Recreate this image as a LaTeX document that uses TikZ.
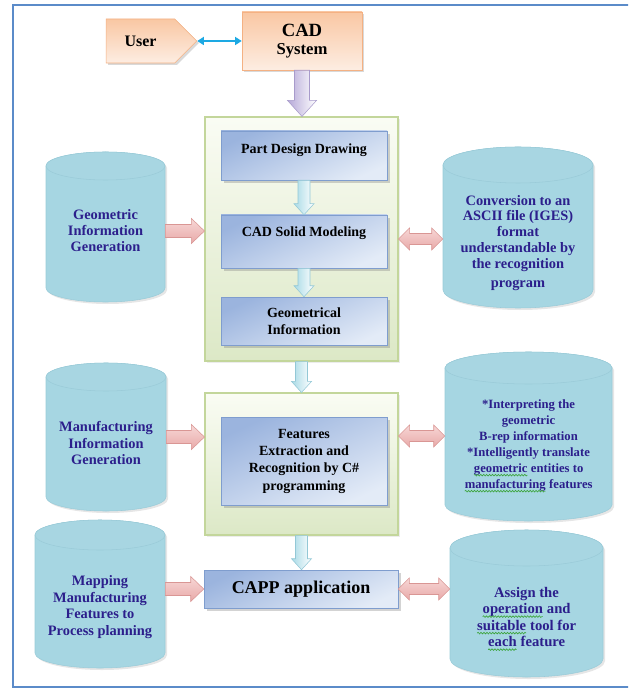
\documentclass[tikz,border=0pt]{standalone}
\usepackage{fontspec}
\setmainfont{Liberation Serif}
\usetikzlibrary{arrows.meta, positioning, calc, shapes.symbols, shadows, decorations.pathmorphing}

\definecolor{frameblue}{HTML}{5B8BC9}
\definecolor{peachline}{HTML}{F4B183}
\definecolor{peachtop}{HTML}{F9C7A3}
\definecolor{peachbot}{HTML}{FDEDE2}
\definecolor{greenline}{HTML}{C3D69B}
\definecolor{greentop}{HTML}{FAFCF4}
\definecolor{greenbot}{HTML}{DCE8C6}
\definecolor{blueline}{HTML}{7F9DCE}
\definecolor{bluedark}{HTML}{9BB4DE}
\definecolor{bluelight}{HTML}{E3EBF7}
\definecolor{cylside}{HTML}{A6D6E2}
\definecolor{cylmid}{HTML}{E4F3F7}
\definecolor{cylcap}{HTML}{A8D6E2}
\definecolor{cylline}{HTML}{9ACBD8}
\definecolor{cylink}{HTML}{2C1F8C}
\definecolor{pinkline}{HTML}{D99694}
\definecolor{pinktop}{HTML}{F7D7D6}
\definecolor{pinkbot}{HTML}{E8A9A8}
\definecolor{cyanline}{HTML}{93C8D6}
\definecolor{cyandark}{HTML}{A8DAE6}
\definecolor{lilacline}{HTML}{A89BCB}
\definecolor{lilacdark}{HTML}{B6A9D8}
\definecolor{linkblue}{HTML}{1DA9E3}
\definecolor{squiggreen}{HTML}{3DA53D}

% green spell-check wave under a word
\newcommand{\squig}[1]{\tikz[baseline=(sq.base), x=1pt, y=1pt]{%
  \node[inner sep=0pt, outer sep=0pt, minimum width=0pt, minimum height=0pt, text depth=, align=none] (sq) {#1};
  \draw[squiggreen, line width=0.5pt, decorate, decoration={snake, amplitude=0.6pt, segment length=2.2pt}]
    ([yshift=-2pt]sq.base west) -- ([yshift=-2pt]sq.base east);}}

\begin{document}
\begin{tikzpicture}[
    x=0.75pt, y=-0.75pt,
    every node/.style={font=\bfseries},
    % boxes
    peachbox/.style={draw=peachline, top color=peachtop, bottom color=peachbot,
                     drop shadow={shadow xshift=1.5pt, shadow yshift=-1.5pt, opacity=0.3}},
    greenbox/.style={draw=greenline, line width=0.8pt, top color=greentop, bottom color=greenbot,
                     drop shadow={shadow xshift=1.5pt, shadow yshift=-1.5pt, opacity=0.15}},
    bluebox/.style={draw=blueline, top color=bluedark, bottom color=bluelight, shading angle=25,
                    drop shadow={shadow xshift=2pt, shadow yshift=-2pt, opacity=0.35},
                    align=center, font=\bfseries\fontsize{10.5}{13}\selectfont},
    cylbody/.style={draw=cylline, left color=cylside, middle color=cylmid, right color=cylside,
                    drop shadow={shadow xshift=1.5pt, shadow yshift=-1.5pt, opacity=0.2}},
    cylend/.style={draw=cylline, fill=cylcap},
    cyltext/.style={inner sep=0pt, align=center, text=cylink},
    % connectors
    userlink/.style={{Triangle[length=5pt,width=6pt]}-{Triangle[length=5pt,width=6pt]},
                     line width=1.5pt, draw=linkblue},
    pinkarrow/.style={draw=pinkline, top color=pinktop, bottom color=pinkbot},
    cyanarrow/.style={draw=cyanline, left color=cyandark, right color=white},
    lilacarrow/.style={draw=lilacline, left color=lilacdark, right color=white},
    % block arrow pointing right
    rarrow/.style={to path={
        ($(\tikztostart)+(0,-6.5)$) -- ($(\tikztostart -| \tikztotarget)+(-13,-6.5)$)
        -- ($(\tikztostart -| \tikztotarget)+(-13,-12.5)$) -- (\tikztostart -| \tikztotarget)
        -- ($(\tikztostart -| \tikztotarget)+(-13,12.5)$) -- ($(\tikztostart -| \tikztotarget)+(-13,6.5)$)
        -- ($(\tikztostart)+(0,6.5)$) -- cycle}},
    % block arrow with two heads
    lrarrow/.style={to path={
        (\tikztostart) -- ($(\tikztostart)+(11,-11)$) -- ($(\tikztostart)+(11,-5.5)$)
        -- ($(\tikztostart -| \tikztotarget)+(-11,-5.5)$) -- ($(\tikztostart -| \tikztotarget)+(-11,-11)$)
        -- (\tikztostart -| \tikztotarget)
        -- ($(\tikztostart -| \tikztotarget)+(-11,11)$) -- ($(\tikztostart -| \tikztotarget)+(-11,5.5)$)
        -- ($(\tikztostart)+(11,5.5)$) -- ($(\tikztostart)+(11,11)$) -- cycle}},
    % block arrow pointing down: shaft half width / head half width / head length
    darrow/.style n args={3}{to path={
        ($(\tikztostart)+(-#1,0)$) -- ($(\tikztostart |- \tikztotarget)+(-#1,-#3)$)
        -- ($(\tikztostart |- \tikztotarget)+(-#2,-#3)$) -- (\tikztostart |- \tikztotarget)
        -- ($(\tikztostart |- \tikztotarget)+(#2,-#3)$) -- ($(\tikztostart |- \tikztotarget)+(#1,-#3)$)
        -- ($(\tikztostart)+(#1,0)$) -- cycle}}
]

\useasboundingbox (0,0) rectangle (628,691);
\clip (0,0) rectangle (628,691);

% === FRAME ===
\draw[frameblue, line width=1.5pt] (13,5) rectangle (660,687);

% === CYLINDERS ===
% centre x / half width / top / bottom / end radius
\foreach \cx/\rx/\yt/\yb/\ry in {105.5/59.5/152/302/14, 106/60/363/511/14, 100/65/520/668/15,
                                 518/75/147/308/18, 528.5/83.5/352/521/16, 526.5/76.5/530/677/18}{
    \draw[cylbody] (\cx-\rx,\yt+\ry) -- (\cx-\rx,\yb-\ry)
        arc[start angle=180, end angle=0, x radius=\rx, y radius=\ry]
        -- (\cx+\rx,\yt+\ry)
        arc[start angle=0, end angle=-180, x radius=\rx, y radius=\ry] -- cycle;
    \draw[cylend] (\cx,\yt+\ry) ellipse [x radius=\rx, y radius=\ry];
}

% left column
\node[cyltext, minimum width=89.25pt, font=\bfseries\fontsize{10.8}{12}\selectfont]
    (geom) at (105.5,231) {Geometric\\Information\\Generation};
\node[cyltext, minimum width=90pt, font=\bfseries\fontsize{10.8}{12.5}\selectfont]
    (manu) at (106,443) {Manufacturing\\Information\\Generation};
\node[cyltext, minimum width=97.5pt, font=\bfseries\fontsize{10.8}{12.4}\selectfont]
    (mapp) at (100,607) {Mapping\\Manufacturing\\Features to\\Process planning};

% right column
\node[cyltext, minimum width=112.5pt, font=\bfseries\fontsize{10.8}{11.8}\selectfont]
    (conv) at (518,243) {Conversion to an\\ASCII file (IGES)\\format\\understandable by\\the recognition\\[3pt]program};
\node[cyltext, minimum width=125.25pt, font=\bfseries\fontsize{9.5}{12}\selectfont]
    (interp) at (528.5,446) {*Interpreting the\\geometric\\B-rep information\\*Intelligently translate\\\squig{geometric} entities to\\\squig{manufacturing} features};
\node[cyltext, minimum width=114.75pt, font=\bfseries\fontsize{11}{12.4}\selectfont]
    (assign) at (526.5,619) {Assign the\\\squig{operation} and\\\squig{suitable} tool for\\\squig{each} feature};

% === TOP ROW ===
\node[peachbox, signal, signal to=east, signal pointer angle=90,
      minimum width=68pt, minimum height=33pt, font=\bfseries\fontsize{12}{14}\selectfont]
    (user) at (140.5,41) {User};
\node[peachbox, minimum width=90pt, minimum height=43.5pt, align=center,
      font=\bfseries\fontsize{12.5}{13.5}\selectfont]
    (cad) at (302,41) {{\fontsize{14}{14}\selectfont CAD}\\System};

% === MIDDLE COLUMN ===
\node[greenbox, minimum width=144.75pt, minimum height=183pt] (design) at (301.5,239) {};
\node[greenbox, minimum width=144.75pt, minimum height=106.5pt] (recog) at (301.5,464) {};

\node[bluebox, minimum width=124.5pt, minimum height=36.75pt, text depth=10pt]
    (drawing) at (304,155.5) {Part Design Drawing};
\node[bluebox, minimum width=124.5pt, minimum height=39.75pt, text depth=15pt]
    (solid) at (304,241.5) {CAD Solid Modeling};
\node[bluebox, minimum width=124.5pt, minimum height=36pt]
    (geominfo) at (304,321) {Geometrical\\Information};
\node[bluebox, minimum width=124.5pt, minimum height=66pt]
    (extract) at (304,461) {Features\\Extraction and\\Recognition by C\#\\programming};
\node[bluebox, minimum width=145.5pt, minimum height=28.5pt, font=\bfseries\fontsize{13.5}{16}\selectfont]
    (capp) at (301,589) {CAPP application};

% === CONNECTORS ===
\draw[userlink] (user.east) -- (cad.west);

\draw[lilacarrow] (cad.south) to[darrow={7.5}{14.5}{16}] (design.north);
\draw[cyanarrow] (drawing.south) to[darrow={6}{10}{11}] (solid.north);
\draw[cyanarrow] (solid.south) to[darrow={6}{10}{11}] (geominfo.north);
\draw[cyanarrow] (design.south) to[darrow={6}{10}{11}] (recog.north);
\draw[cyanarrow] (recog.south) to[darrow={6}{10}{11}] (capp.north);

\draw[pinkarrow] (geom.east) to[rarrow] (design.west);
\draw[pinkarrow] ([yshift=4.5pt]manu.east) to[rarrow] (recog.west);
\draw[pinkarrow] (mapp.east |- capp.west) to[rarrow] (capp.west);

\draw[pinkarrow] (design.east) to[lrarrow] (conv.west);
\draw[pinkarrow] ([yshift=21pt]recog.east) to[lrarrow] (interp.west);
\draw[pinkarrow] (capp.east) to[lrarrow] (assign.west);

\end{tikzpicture}
\end{document}
